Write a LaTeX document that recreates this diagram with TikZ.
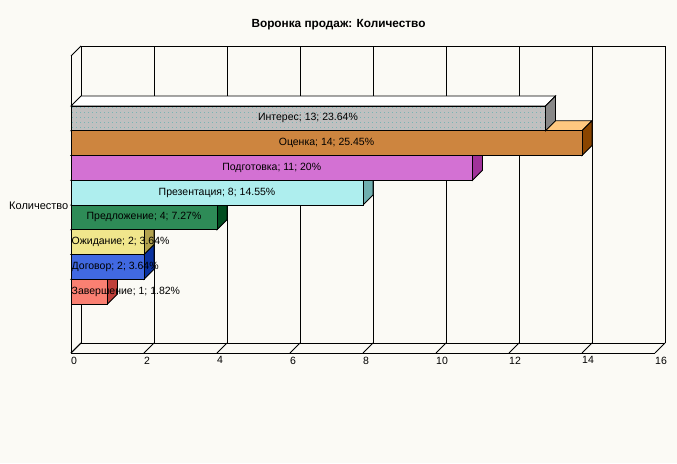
\documentclass[tikz,border=0pt]{standalone}
\usepackage{fontspec}
\setmainfont{Liberation Sans}
\usetikzlibrary{patterns}
\pgfdeclarepatternformonly{bardots}{\pgfqpoint{0pt}{0pt}}{\pgfqpoint{1pt}{1pt}}{\pgfqpoint{4pt}{5pt}}{\pgfpathrectangle{\pgfqpoint{0pt}{0pt}}{\pgfqpoint{0.9pt}{0.9pt}}\pgfusepath{fill}}
\definecolor{bgc}{HTML}{FBFAF5}
\definecolor{intF}{HTML}{C0C0C0}
\definecolor{intT}{HTML}{FFFFFF}
\definecolor{intS}{HTML}{888888}
\definecolor{intD}{HTML}{78B4B4}
\definecolor{ocF}{HTML}{CD853F}
\definecolor{ocT}{HTML}{FFC880}
\definecolor{ocS}{HTML}{8B4500}
\definecolor{poF}{HTML}{D371D3}
\definecolor{poT}{HTML}{F0B0F0}
\definecolor{poS}{HTML}{A0329A}
\definecolor{prF}{HTML}{AEEEEE}
\definecolor{prT}{HTML}{E0FFFF}
\definecolor{prS}{HTML}{6FAFAF}
\definecolor{pdF}{HTML}{2E8B57}
\definecolor{pdT}{HTML}{80C8A0}
\definecolor{pdS}{HTML}{004D1F}
\definecolor{ozF}{HTML}{F0E68C}
\definecolor{ozT}{HTML}{FFF8C8}
\definecolor{ozS}{HTML}{B2A24E}
\definecolor{doF}{HTML}{4169E1}
\definecolor{doT}{HTML}{A0B8FF}
\definecolor{doS}{HTML}{0A32A0}
\definecolor{zaF}{HTML}{FA8072}
\definecolor{zaT}{HTML}{FFC0B0}
\definecolor{zaS}{HTML}{C0403A}
\tikzset{
  axisline/.style={draw=black,line width=0.9pt},
  barline/.style={draw=black,line width=0.9pt,line join=miter},
  chartfont/.style={font=\fontsize{10.5}{12}\selectfont,inner sep=0pt},
  barlabel/.style={chartfont,text=black},
}
\begin{document}
\begin{tikzpicture}[x=1pt,y=-1pt]
\useasboundingbox (0,0) rectangle (677,463);
\fill[bgc] (0,0) rectangle (677,463);
% back wall
\draw[axisline] (81,46) -- (665,46);
\foreach \k in {0,2,...,16}{
  \draw[axisline] ({81+36.5*\k},46) -- ({81+36.5*\k},343);
}
% left wall
\draw[axisline] (71,56) -- (81,46);
\draw[axisline] (71,56) -- (71,353);
\draw[axisline] (71,353) -- (81,343);
% floor
\draw[axisline] (81,343) -- (665,343);
\draw[axisline] (71,353) -- (655,353);
\foreach \k in {0,2,...,16}{
  \draw[axisline] ({71+36.5*\k},353) -- ({81+36.5*\k},343);
  \node[chartfont,anchor=north west] (tick\k) at ({71+36.5*\k},356.5) {\k};
}
% bars, bottom to top
\foreach \i/\v/\c in {7/1/za,6/2/do,5/2/oz,4/4/pd,3/8/pr,2/11/po,1/14/oc,0/13/int}{
  \pgfmathsetmacro{\t}{106+24.75*\i}
  \pgfmathsetmacro{\b}{\t+24.75}
  \pgfmathsetmacro{\r}{71+36.5*\v}
  \filldraw[barline,fill=\c T] (71,\t) -- (81,\t-10) -- (\r+10,\t-10) -- (\r,\t) -- cycle;
  \filldraw[barline,fill=\c S] (\r,\t) -- (\r+10,\t-10) -- (\r+10,\b-10) -- (\r,\b) -- cycle;
  \fill[\c F] (71,\t) rectangle (\r,\b);
  \ifnum\i=0
    \fill[pattern=bardots,pattern color=intD] (71.5,\t+1) rectangle (\r-1,\b-1);
  \fi
  \draw[barline] (71,\t) rectangle (\r,\b);
}
% bar labels
\node[barlabel] (lint) at (308,118.4) {Интерес; 13; 23.64\%};
\node[barlabel] (loc) at (326.5,143.1) {Оценка; 14; 25.45\%};
\node[barlabel] (lpo) at (271.75,167.9) {Подготовка; 11; 20\%};
\node[barlabel] (lpr) at (217,192.6) {Презентация; 8; 14.55\%};
\node[barlabel] (lpd) at (144,217.4) {Предложение; 4; 7.27\%};
\node[barlabel,anchor=west] (loz) at (71.5,242.1) {Ожидание; 2; 3.64\%};
\node[barlabel,anchor=west] (ldo) at (71.5,266.9) {Договор; 2; 3.64\%};
\node[barlabel,anchor=west] (lza) at (71.5,291.6) {Завершение; 1; 1.82\%};
% axis category label
\node[chartfont,font=\fontsize{11}{12}\selectfont,anchor=east] (cat) at (68.5,206) {Количество};
% title
\node[chartfont,font=\fontsize{11.8}{13}\selectfont\bfseries] (title) at (338.5,25) {Воронка продаж: Количество};
\end{tikzpicture}
\end{document}
